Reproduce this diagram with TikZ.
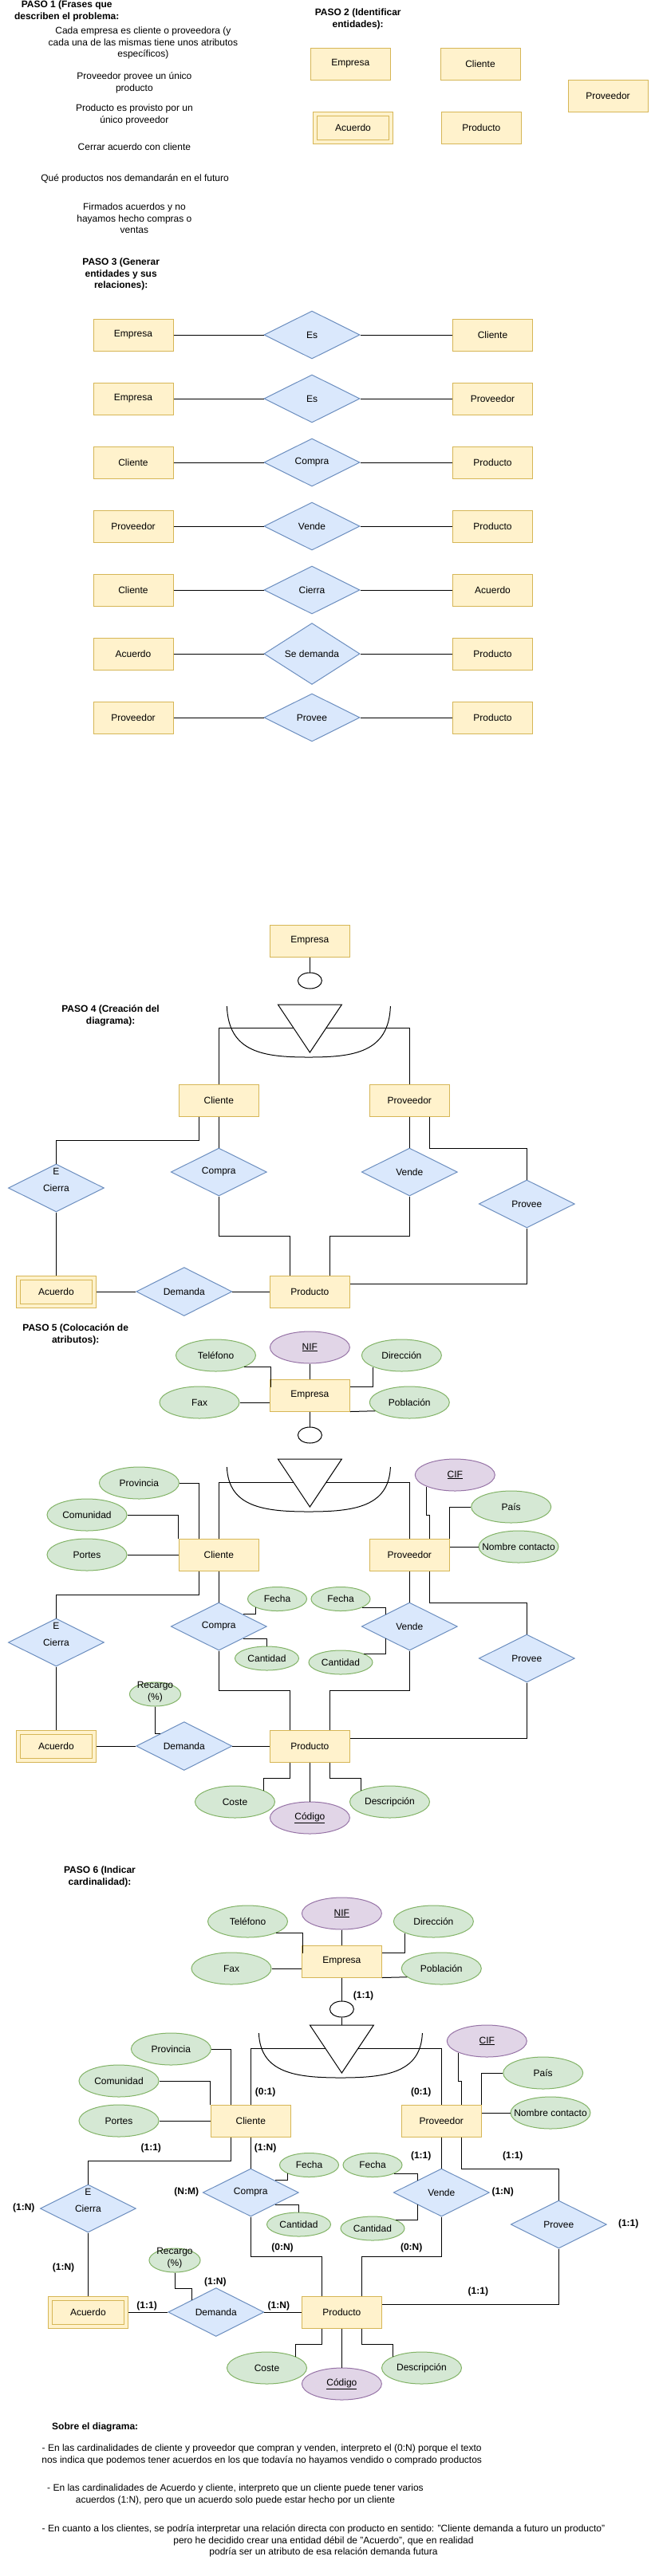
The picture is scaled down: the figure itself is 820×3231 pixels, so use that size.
\documentclass[tikz,border=0pt]{standalone}
\usepackage{fontspec}
\setmainfont{Liberation Sans}
\usetikzlibrary{shapes.geometric,calc}

\definecolor{entFill}{HTML}{FFF2CC}
\definecolor{entLine}{HTML}{D6B656}
\definecolor{relFill}{HTML}{DAE8FC}
\definecolor{relLine}{HTML}{6C8EBF}
\definecolor{attFill}{HTML}{D5E8D4}
\definecolor{attLine}{HTML}{82B366}
\definecolor{keyFill}{HTML}{E1D5E7}
\definecolor{keyLine}{HTML}{9673A6}

\newcommand\diagFont{\fontsize{12}{14.4}\selectfont}

% triangle + arc of the generalisation: #1 x of the triangle, #2 y of its top, #3 where the arc starts
\newcommand\isaShape[3]{%
    \draw[fill=white] (#1-40,#2) -- (#1+40,#2) -- (#1,#2+60) -- cycle;
    \draw (#1-104,#2+#3) .. controls (#1-102,#2+60) and (#1-58,#2+66) .. (#1-1.5,#2+66)
          .. controls (#1+55,#2+66) and (#1+99,#2+60) .. (#1+101,#2+#3);
}

\tikzset{
    entity/.style={draw=entLine, fill=entFill, minimum width=100, minimum height=40, inner sep=0, font=\diagFont},
    weak/.style={entity, path picture={\draw[entLine] ([shift={(5pt,5pt)}]path picture bounding box.south west) rectangle ([shift={(-5pt,-5pt)}]path picture bounding box.north east);}},
    relation/.style={diamond, draw=relLine, fill=relFill, minimum width=120, minimum height=60, inner sep=0, font=\diagFont},
    attrib/.style={ellipse, draw=attLine, fill=attFill, minimum width=100, minimum height=40, inner sep=0, font=\diagFont},
    keyattrib/.style={attrib, draw=keyLine, fill=keyFill},
    smallattrib/.style={attrib, minimum width=74, minimum height=30},
    isaCircle/.style={ellipse, draw, fill=white, minimum width=30, minimum height=20, inner sep=0},
    plain/.style={align=center, inner sep=0, font=\diagFont},
    heading/.style={plain, font=\diagFont\bfseries},
    card/.style={inner sep=0, font=\diagFont\bfseries}
}

\begin{document}
\begin{tikzpicture}[x=1pt, y=-1pt, line width=1pt]
    \useasboundingbox[fill=white] (0,0) rectangle (820,3231);

    % PASO 1
    \node[heading] (title1) at (83.7,13.7) {PASO 1 (Frases que\\describen el problema:};
    \node[plain] (frase1) at (179.4,54) {Cada empresa es cliente o proveedora (y\\cada una de las mismas tiene unos atributos\\específicos)};
    \node[plain] (frase2) at (168.4,104) {Proveedor provee un único\\producto};
    \node[plain] (frase3) at (168.4,144) {Producto es provisto por un\\único proveedor};
    \node[plain] (frase4) at (168.4,184) {Cerrar acuerdo con cliente};
    \node[plain] (frase5) at (169,224) {Qué productos nos demandarán en el futuro};
    \node[plain] (frase6) at (168.4,274) {Firmados acuerdos y no\\hayamos hecho compras o\\ventas};

    % PASO 2
    \node[heading] (title2) at (448.7,24) {PASO 2 (Identificar\\entidades):};
    \node[entity] (empresa2) at (439.3,80) {Empresa};
    \node[entity] (cliente2) at (602,80) {Cliente};
    \node[entity] (proveedor2) at (762,120) {Proveedor};
    \node[weak] (acuerdo2) at (442.5,160) {Acuerdo};
    \node[entity] (producto2) at (603.3,160) {Producto};

    % PASO 3
    \node[heading] (title3) at (151.7,344) {PASO 3 (Generar\\entidades y sus\\relaciones):};
    \foreach \i/\entA/\relName/\entB in {0/Empresa/Es/Cliente, 1/Empresa/Es/Proveedor, 2/Cliente/Compra/Producto, 3/Proveedor/Vende/Producto, 4/Cliente/Cierra/Acuerdo, 5/Acuerdo/Se demanda/Producto, 6/Proveedor/Provee/Producto}{
        \node[entity] (ea\i) at (167,{420+80*\i}) {\entA};
        \node[relation] (rel\i) at (391,{420+80*\i}) {\relName};
        \node[entity] (eb\i) at (617.5,{420+80*\i}) {\entB};
        \draw (ea\i) -- (rel\i) (rel\i) -- (eb\i);
    }

    % PASO 4
    \node[heading] (title4) at (138.6,1274) {PASO 4 (Creación del\\diagrama):};
    \node[entity] (empresa4) at (388.4,1180) {Empresa};
    \node[isaCircle] (circ4) at (388.4,1230) {};
    \coordinate (isa4) at (388.4,1260);
    \node[entity] (cliente4) at (274.3,1380) {Cliente};
    \node[entity] (proveedor4) at (513.3,1380) {Proveedor};
    \node[relation] (cierra4) at (70.4,1490) {Cierra};
    \node[plain] (e4) at (70.4,1469) {E};
    \node[weak] (acuerdo4) at (70.4,1620) {Acuerdo};
    \node[relation] (compra4) at (274.3,1470) {Compra};
    \node[relation] (vende4) at (513.3,1470) {Vende};
    \node[relation] (provee4) at (660.3,1510) {Provee};
    \node[entity] (producto4) at (388.4,1620) {Producto};
    \node[relation] (demanda4) at (230.8,1620) {Demanda};

    \draw (empresa4) -- (circ4);
    \draw (cliente4.north) -- ++(0,-70) -| (proveedor4.north);
    \isaShape{388.4}{1260}{2}
    \draw ([xshift=-25pt]cliente4.south) -- ++(0,30) -| (cierra4.north);
    \draw (cierra4) -- (acuerdo4);
    \draw (cliente4) -- (compra4);
    \draw (compra4.south) -- ++(0,50) -| ([xshift=-25pt]producto4.north);
    \draw (proveedor4) -- (vende4);
    \draw (vende4.south) -- ++(0,50) -| ([xshift=25pt]producto4.north);
    \draw ([xshift=25pt]proveedor4.south) -- ++(0,40) -| (provee4.north);
    \draw (provee4.south) |- ([yshift=10pt]producto4.east);
    \draw (acuerdo4) -- (demanda4) (demanda4) -- (producto4);

    % PASO 5
    \node[heading] (title5) at (94.7,1674) {PASO 5 (Colocación de\\atributos):};
    \node[keyattrib] (nif5) at (388.4,1690) {\underline{NIF}};
    \node[attrib] (tel5) at (270.5,1700) {Teléfono};
    \node[attrib] (dir5) at (503.4,1700) {Dirección};
    \node[entity] (empresa5) at (388.4,1750) {Empresa};
    \node[attrib] (fax5) at (250,1759) {Fax};
    \node[attrib] (pob5) at (513.3,1759) {Población};
    \node[isaCircle] (circ5) at (388.4,1800) {};
    \coordinate (isa5) at (388.4,1830);
    \node[attrib] (provin5) at (174.4,1860) {Provincia};
    \node[attrib] (comu5) at (109,1900) {Comunidad};
    \node[attrib] (portes5) at (109,1950) {Portes};
    \node[entity] (cliente5) at (274.3,1950) {Cliente};
    \node[keyattrib] (cif5) at (570.3,1850) {\underline{CIF}};
    \node[attrib] (pais5) at (640.7,1890) {País};
    \node[attrib] (contacto5) at (650,1940) {\makebox[0pt]{Nombre contacto}};
    \node[entity] (proveedor5) at (513.3,1950) {Proveedor};
    \node[relation] (cierra5) at (70.4,2060) {Cierra};
    \node[plain] (e5) at (70.4,2039) {E};
    \node[weak] (acuerdo5) at (70.4,2190) {Acuerdo};
    \node[relation] (compra5) at (274.3,2040) {Compra};
    \node[smallattrib] (fechaC5) at (347.5,2005.5) {Fecha};
    \node[smallattrib, minimum width=80] (cantC5) at (334.5,2080) {Cantidad};
    \node[relation] (vende5) at (513.3,2040) {Vende};
    \node[smallattrib] (fechaV5) at (427,2005.5) {Fecha};
    \node[smallattrib, minimum width=80] (cantV5) at (427,2085) {Cantidad};
    \node[relation] (provee5) at (660.3,2080) {Provee};
    \node[entity] (producto5) at (388.4,2190) {Producto};
    \node[relation] (demanda5) at (230.8,2190) {Demanda};
    \node[smallattrib, minimum width=60] (recargo5) at (194.5,2125) {\smash{\begin{tabular}{@{}c@{}}Recargo\\(\%)\end{tabular}}};
    \node[attrib] (coste5) at (294.5,2260) {Coste};
    \node[keyattrib] (codigo5) at (388.4,2280) {\underline{Código}};
    \node[attrib] (desc5) at (488.5,2260) {Descripción};

    \draw (nif5) -- (empresa5);
    \draw (tel5.south east) -| ([shift={(2pt,-10pt)}]empresa5.north west);
    \draw (dir5.south west) |- ([yshift=-10pt]empresa5.north east);
    \draw (fax5.east) -- (fax5.east -| empresa5.west);
    \draw (empresa5.south east) -- (pob5.194);
    \draw (empresa5) -- (circ5);
    \draw (cliente5.north) -- ++(0,-70) -| (proveedor5.north);
    \isaShape{388.4}{1830}{10}
    \draw (provin5.east) -| ([xshift=-25pt]cliente5.north);
    \draw (comu5.east) -| (cliente5.north west);
    \draw (portes5.east) -- (cliente5.west);
    \draw (cif5.south west) -- ++(0,36) -| ([xshift=25pt]proveedor5.north);
    \draw (pais5.west) -| (proveedor5.north east);
    \draw (contacto5.west) -- (contacto5.west -| proveedor5.east);
    \draw ([xshift=-25pt]cliente5.south) -- ++(0,30) -| (cierra5.north);
    \draw (cierra5) -- (acuerdo5);
    \draw (cliente5) -- (compra5);
    \draw (fechaC5.south west) |- (compra5.north east);
    \draw (compra5.south east) -| (cantC5.north);
    \draw (compra5.south) -- ++(0,50) -| ([xshift=-25pt]producto5.north);
    \draw (proveedor5) -- (vende5);
    \draw (fechaV5.south east) -| (vende5.north west);
    \draw (cantV5.north east) -| (vende5.south west);
    \draw (vende5.south) -- ++(0,50) -| ([xshift=25pt]producto5.north);
    \draw ([xshift=25pt]proveedor5.south) -- ++(0,40) -| (provee5.north);
    \draw (provee5.south) |- ([yshift=10pt]producto5.east);
    \draw (acuerdo5) -- (demanda5) (demanda5) -- (producto5);
    \draw (recargo5.south) |- (demanda5.north west);
    \draw ([xshift=-25pt]producto5.south) -- ++(0,20) -| (coste5.north east);
    \draw (producto5) -- (codigo5);
    \draw ([xshift=25pt]producto5.south) -- ++(0,20) -| (desc5.north west);

    % PASO 6
    \node[heading] (title6) at (125,2354) {PASO 6 (Indicar\\cardinalidad):};
    \node[keyattrib] (nif6) at (428.4,2400) {\underline{NIF}};
    \node[attrib] (tel6) at (310.5,2410) {Teléfono};
    \node[attrib] (dir6) at (543.4,2410) {Dirección};
    \node[entity] (empresa6) at (428.4,2460) {Empresa};
    \node[attrib] (fax6) at (290,2469) {Fax};
    \node[attrib] (pob6) at (553.3,2469) {Población};
    \node[isaCircle] (circ6) at (428.4,2520) {};
    \coordinate (isa6) at (428.4,2540);
    \node[attrib] (provin6) at (214.4,2570) {Provincia};
    \node[attrib] (comu6) at (149,2610) {Comunidad};
    \node[attrib] (portes6) at (149,2660) {Portes};
    \node[entity] (cliente6) at (314.3,2660) {Cliente};
    \node[keyattrib] (cif6) at (610.3,2560) {\underline{CIF}};
    \node[attrib] (pais6) at (680.7,2600) {País};
    \node[attrib] (contacto6) at (690,2650) {\makebox[0pt]{Nombre contacto}};
    \node[entity] (proveedor6) at (553.3,2660) {Proveedor};
    \node[relation] (cierra6) at (110.4,2770) {Cierra};
    \node[plain] (e6) at (110.4,2749) {E};
    \node[weak] (acuerdo6) at (110.4,2900) {Acuerdo};
    \node[relation] (compra6) at (314.3,2750) {Compra};
    \node[smallattrib] (fechaC6) at (387.5,2715.5) {Fecha};
    \node[smallattrib, minimum width=80] (cantC6) at (374.5,2790) {Cantidad};
    \node[relation] (vende6) at (553.3,2750) {Vende};
    \node[smallattrib] (fechaV6) at (467,2715.5) {Fecha};
    \node[smallattrib, minimum width=80] (cantV6) at (467,2795) {Cantidad};
    \node[relation] (provee6) at (700.3,2790) {Provee};
    \node[entity] (producto6) at (428.4,2900) {Producto};
    \node[relation] (demanda6) at (270.8,2900) {Demanda};
    \node[smallattrib, minimum width=60] (recargo6) at (219,2835) {\smash{\begin{tabular}{@{}c@{}}Recargo\\(\%)\end{tabular}}};
    \node[attrib] (coste6) at (334.5,2970) {Coste};
    \node[keyattrib] (codigo6) at (428.4,2990) {\underline{Código}};
    \node[attrib] (desc6) at (528.5,2970) {Descripción};

    \draw (nif6) -- (empresa6);
    \draw (tel6.south east) -| ([shift={(2pt,-10pt)}]empresa6.north west);
    \draw (dir6.south west) |- ([yshift=-10pt]empresa6.north east);
    \draw (fax6.east) -- (fax6.east -| empresa6.west);
    \draw (empresa6.south east) -- (pob6.194);
    \draw (empresa6) -- (circ6);
    \draw (circ6.south) -- (isa6);
    \draw (cliente6.north) -- ++(0,-70) -| (proveedor6.north);
    \isaShape{428.4}{2540}{10}
    \draw (provin6.east) -| ([xshift=-25pt]cliente6.north);
    \draw (comu6.east) -| (cliente6.north west);
    \draw (portes6.east) -- (cliente6.west);
    \draw (cif6.south west) -- ++(0,36) -| ([xshift=25pt]proveedor6.north);
    \draw (pais6.west) -| (proveedor6.north east);
    \draw (contacto6.west) -- (contacto6.west -| proveedor6.east);
    \draw ([xshift=-25pt]cliente6.south) -- ++(0,30) -| (cierra6.north);
    \draw (cierra6) -- (acuerdo6);
    \draw (cliente6) -- (compra6);
    \draw (fechaC6.south west) |- (compra6.north east);
    \draw (compra6.south east) -| (cantC6.north);
    \draw (compra6.south) -- ++(0,50) -| ([xshift=-25pt]producto6.north);
    \draw (proveedor6) -- (vende6);
    \draw (fechaV6.south east) -| (vende6.north west);
    \draw (cantV6.north east) -| (vende6.south west);
    \draw (vende6.south) -- ++(0,50) -| ([xshift=25pt]producto6.north);
    \draw ([xshift=25pt]proveedor6.south) -- ++(0,40) -| (provee6.north);
    \draw (provee6.south) |- ([yshift=10pt]producto6.east);
    \draw (acuerdo6) -- (demanda6) (demanda6) -- (producto6);
    \draw (recargo6.south) -- ++(0,20) -| (demanda6.north west);
    \draw ([xshift=-25pt]producto6.south) -- ++(0,20) -| (coste6.north east);
    \draw (producto6) -- (codigo6);
    \draw ([xshift=25pt]producto6.south) -- ++(0,20) -| (desc6.north west);

    % cardinalidades
    \node[card] (cardIsa) at (455.5,2503) {(1:1)};
    \node[card] (cardCliIsa) at (332.6,2624) {(0:1)};
    \node[card] (cardProvIsa) at (527.7,2624) {(0:1)};
    \node[card] (cardCliCierra) at (189.3,2694) {(1:1)};
    \node[card] (cardCliCompra) at (332.6,2694) {(1:N)};
    \node[card] (cardProvVende) at (527.7,2704) {(1:1)};
    \node[card] (cardProvProvee) at (642.8,2704) {(1:1)};
    \node[card] (cardCompra) at (233.8,2749) {(N:M)};
    \node[card] (cardCierra) at (29.8,2769) {(1:N)};
    \node[card] (cardVende) at (630.2,2749) {(1:N)};
    \node[card] (cardProvee) at (787.7,2789) {(1:1)};
    \node[card] (cardCompraProd) at (354,2819) {(0:N)};
    \node[card] (cardVendeProd) at (515.7,2819) {(0:N)};
    \node[card] (cardCierraAcu) at (79.5,2844) {(1:N)};
    \node[card] (cardDemanda) at (269.9,2862) {(1:N)};
    \node[card] (cardProveeProd) at (599.4,2874) {(1:1)};
    \node[card] (cardAcuDem) at (184.1,2892) {(1:1)};
    \node[card] (cardDemProd) at (349.4,2892) {(1:N)};

    % notas
    \node[heading] (notas) at (119.2,3044) {Sobre el diagrama:};
    \node[plain] (nota1) at (328.2,3079) {- En las cardinalidades de cliente y proveedor que compran y venden, interpreto el (0:N) porque el texto\\nos indica que podemos tener acuerdos en los que todavía no hayamos vendido o comprado productos};
    \node[plain] (nota2) at (295,3129) {- En las cardinalidades de Acuerdo y cliente, interpreto que un cliente puede tener varios\\acuerdos (1:N), pero que un acuerdo solo puede estar hecho por un cliente};
    \node[plain] (nota3) at (405.5,3187) {- En cuanto a los clientes, se podría interpretar una relación directa con producto en sentido: "Cliente demanda a futuro un producto"\\pero he decidido crear una entidad débil de "Acuerdo", que en realidad\\podría ser un atributo de esa relación demanda futura};
\end{tikzpicture}
\end{document}
